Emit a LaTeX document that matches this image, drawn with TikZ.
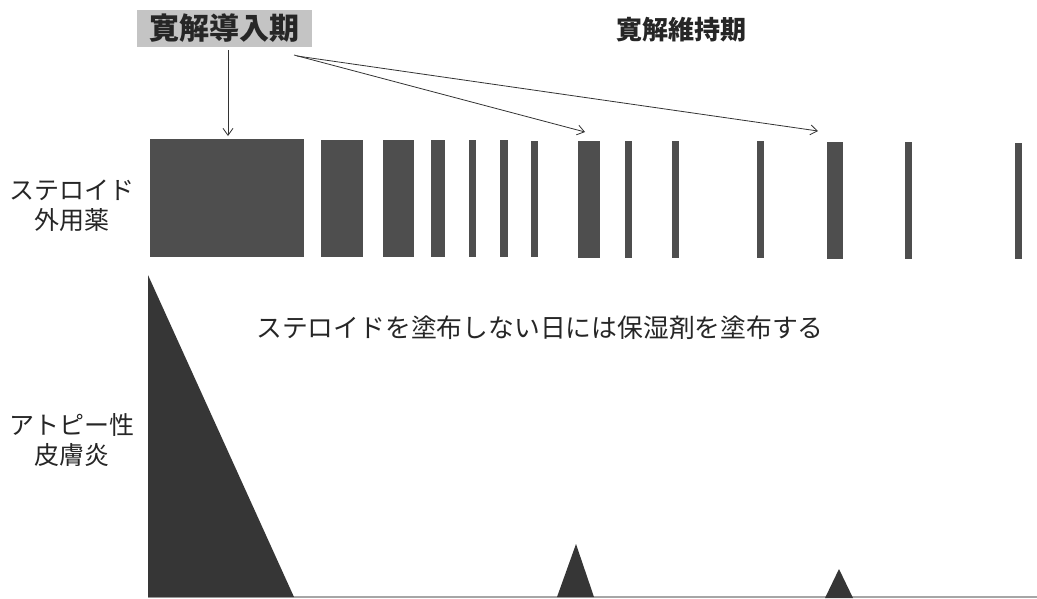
\documentclass[tikz,border=0pt]{standalone}
\usepackage{fontspec}
\setmainfont{Noto Sans CJK JP}
\newfontfamily\cjk{Noto Sans CJK JP}
\usetikzlibrary{arrows.meta}
\definecolor{bardark}{HTML}{4E4E4E}
\definecolor{tridark}{HTML}{363636}
\definecolor{labelbg}{HTML}{C4C4C4}
\tikzset{
  bar/.style={fill=bardark, draw=none},
  tri/.style={fill=tridark, draw=none},
  lbl/.style={font=\cjk\fontsize{25}{29}\selectfont, align=center, inner sep=0pt, text=black!85},
  phase/.style={font=\cjk\bfseries\fontsize{26}{30}\selectfont, inner sep=0pt, text=black!85},
  arr/.style={-{Straight Barb[length=7pt,width=10pt]}, line width=0.8pt, draw=black!80}
}
\begin{document}
\begin{tikzpicture}[x=1pt,y=-1pt]
\useasboundingbox (0,0) rectangle (1037,598);
% phase labels
\node[phase, fill=labelbg, minimum width=175pt, minimum height=37pt, font=\cjk\bfseries\fontsize{30}{33}\selectfont] (induct) at (224.5,28.5) {寛解導入期};
\node[phase] (maint) at (681,30) {寛解維持期};
% bars
\fill[bar] (150,139) rectangle (304,257);
\fill[bar] (321,140) rectangle (363,257);
\fill[bar] (383,140) rectangle (414,257);
\fill[bar] (431,140) rectangle (445,257);
\fill[bar] (469,140) rectangle (476,257);
\fill[bar] (500,140) rectangle (508,257);
\fill[bar] (531,141) rectangle (538,257);
\fill[bar] (578,141) rectangle (600,258);
\fill[bar] (625,141) rectangle (632,258);
\fill[bar] (672,141) rectangle (679,258);
\fill[bar] (757,141) rectangle (764,258);
\fill[bar] (827,142) rectangle (843,259);
\fill[bar] (905,142) rectangle (912,259);
\fill[bar] (1015,143) rectangle (1022,259);
% arrows
\coordinate (a1s) at (228,50);
\coordinate (a1e) at (228,136);
\coordinate (a2s) at (294,55);
\coordinate (a2e) at (585,132);
\coordinate (a3s) at (297,56);
\coordinate (a3e) at (818,131);
\draw[arr] (a1s) -- (a1e);
\draw[arr] (a2s) -- (a2e);
\draw[arr] (a3s) -- (a3e);
% left labels
\node[lbl] (steroid) at (72,206) {ステロイド\\[1pt]外用薬};
\node[lbl] (atopy) at (72,440) {アトピー性\\[1pt]皮膚炎};
% middle text
\node[lbl, font=\cjk\fontsize{25.8}{29}\selectfont] (note) at (540,328) {ステロイドを塗布しない日には保湿剤を塗布する};
% baseline
\draw[line width=1.5pt, draw=black!35] (148,597) -- (1037,597);
% triangles
\fill[tri] (148,275) -- (294,597) -- (148,597) -- cycle;
\fill[tri] (576,544) -- (594,597) -- (557,597) -- cycle;
\fill[tri] (839,569) -- (853,598) -- (825,598) -- cycle;
\end{tikzpicture}
\end{document}
